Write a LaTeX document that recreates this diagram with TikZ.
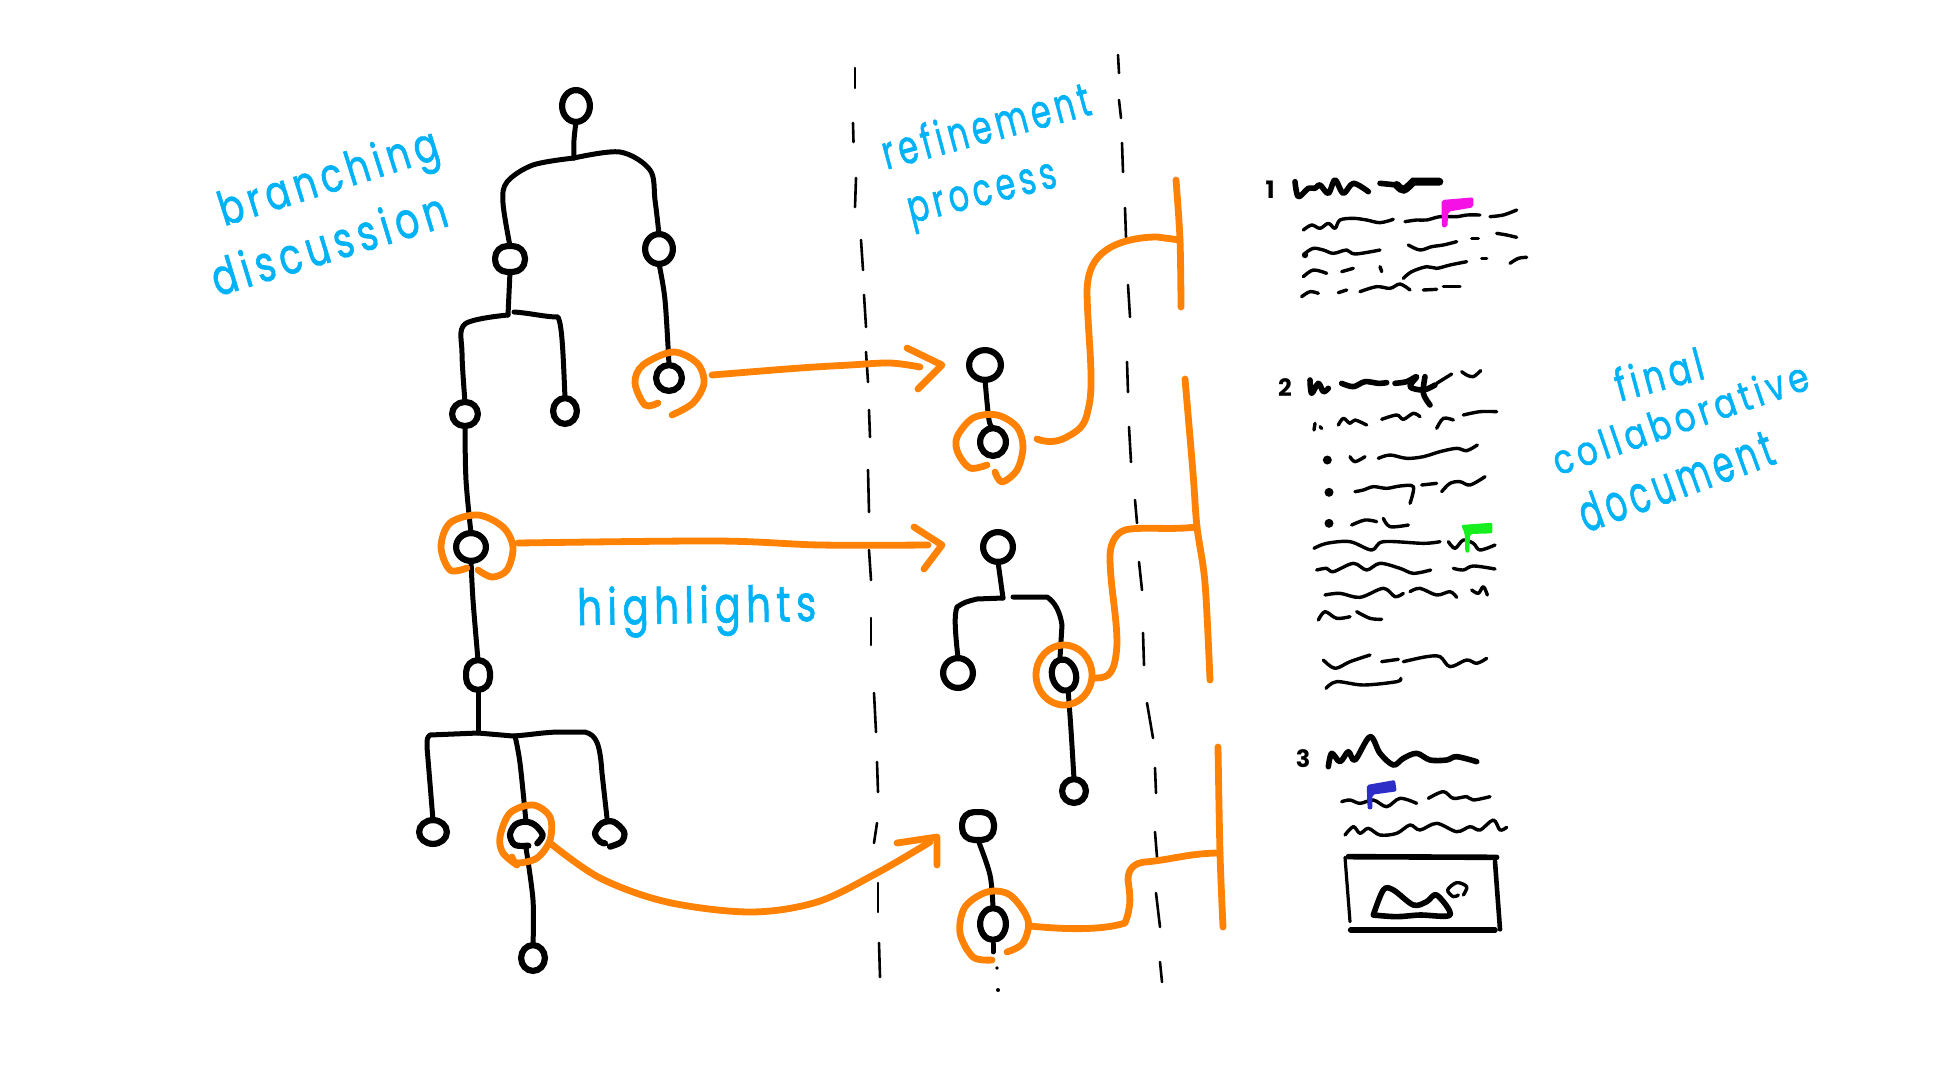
\documentclass[tikz,border=0pt]{standalone}
\usepackage{fontspec}
\usepackage{graphicx}
\usetikzlibrary{shapes.geometric}
\setmainfont{Poppins}
\definecolor{skyb}{HTML}{00B2F6}
\definecolor{orng}{HTML}{FF8204}
\definecolor{magf}{HTML}{F511E6}
\definecolor{grnf}{HTML}{16EE1E}
\definecolor{bluf}{HTML}{2D2DC8}
\tikzset{
  wire/.style={black,line width=5pt,line cap=round,line join=round},
  nodeline/.style={black,line width=6.2pt,line cap=round,line join=round},
  hlt/.style={orng,line width=6.8pt,line cap=round,line join=round},
  tick/.style={black,line width=2.6pt,line cap=round},
  ink/.style={black,line width=3.4pt,line cap=round,line join=round},
  inkh/.style={black,line width=5.6pt,line cap=round,line join=round},
  tn/.style={ellipse,draw=black,line width=6.2pt,inner sep=0pt,outer sep=0pt},
  tq/.style={rectangle,rounded corners=12pt,draw=black,line width=6.2pt,inner sep=0pt,outer sep=0pt},
  tg/.style={ellipse,inner sep=0pt,outer sep=0pt},
  lbl/.style={text=skyb,inner sep=0pt,anchor=base},
  z/.style 2 args={shift={(#1,#2)},x=0.33333pt,y=-0.33333pt},
  numb/.style={inner sep=0pt,font=\fontsize{24pt}{24pt}\selectfont\bfseries},
}
% name, x, y, outer half-width, outer half-height, rotation
\newcommand{\tnode}[6][tn]{\node[#1,rotate=#6,minimum width={(2*#4-6.2)*1pt},minimum height={(2*#5-6.2)*1pt}] (#2) at (#3) {};}
\newcommand{\sk}[2]{\draw[#1] plot[smooth,tension=.55] coordinates {#2};}
\newcommand{\lab}[6]{\node[lbl,rotate=#3] (#1) at (#2) {\resizebox{#4pt}{#5pt}{\addfontfeature{LetterSpace=14,FakeBold=1.4}#6}};}
\begin{document}
\begin{tikzpicture}[x=1pt,y=-1pt]
\useasboundingbox (0,0) rectangle (1938,1090);
\fill[white] (0,0) rectangle (1938,1090);

% dashed dividers
\foreach \a/\b/\c/\d in {855/68/855/88,853/123/853.5/142,856/178/855/207,861/240/863/270,864/295/866/327,866/352/868/382,869/410/870/437,868/470/869/512,869/550/871/580,871/618/871/645,874/693/876/732,877/762/878/792,877/823/874/843,878/883/878/912,879/943/880/977,
 1118/55/1119/73,1119/100/1121/118,1122/143/1123/172,1125/208/1126/237,1128/285/1130/317,1127/362/1128/392,1129/427/1131/462,1135/500/1137/523,1139/562/1142/590,1143/633/1144/665,1147/703/1153/738,1155/768/1156/793,1155/832/1157/857,1156/893/1160/927,1160/962/1162/982}
 {\draw[tick] (\a,\b) -- (\c,\d);}

% left tree nodes
\tnode{root}{576,106}{17}{19}{0}
\tnode[tq]{na}{510,259}{18}{16}{0}
\tnode{nb}{659,249}{17}{18}{0}
\tnode{nc}{669,378}{16}{16}{0}
\tnode[tq]{nd}{465,414}{16}{15}{0}
\tnode{ne}{565,411}{15}{16}{0}
\tnode{nf}{471,547}{18}{17}{0}
\tnode[tq]{ng}{478,675}{15}{18}{0}
\tnode{nh}{433,832}{17}{15}{0}
\node[tg,minimum width=32pt,minimum height=26pt] (ni) at (526,835) {};
\node[tg,minimum width=30pt,minimum height=28pt] (nj) at (610,834) {};
\tnode{nk}{533,958}{15}{16}{0}
\begin{scope}[z={400}{480}]
\sk{nodeline}{(412,1090)(428,1065)(405,1035)(375,1025)(345,1035)(330,1065)(345,1095)(385,1097)}
\sk{nodeline}{(630,1100)(665,1085)(672,1055)(640,1025)(605,1030)(585,1060)(600,1085)(615,1090)}
\end{scope}

% junctions
\coordinate (ja) at (574,158);
\coordinate (jb) at (508,315);
\coordinate (jc) at (478,733);

% left tree connectors
\sk{wire}{(root.south)(574,140)(ja)}
\sk{wire}{(ja)(533,165)(507,182)(503,203)(na.north)}
\sk{wire}{(ja)(620,152)(650,170)(655,200)(nb.north)}
\sk{wire}{(nb.south)(665,300)(nc.north)}
\sk{wire}{(na.south)(jb)}
\sk{wire}{(jb)(465,324)(462,353)(nd.north)}
\draw[wire] (514,312) .. controls (530,313) and (545,317) .. (558,317) .. controls (562,325) and (563,350) .. (ne.north);
\sk{wire}{(nd.south)(466,480)(nf.north)}
\sk{wire}{(nf.south)(473,600)(ng.north)}
\sk{wire}{(ng.south)(jc)}
\draw[wire] (nh.north) -- (427,747) .. controls (427,738) .. (430,735) -- (jc) -- (513,736) .. controls (530,735) and (545,732) .. (560,732) -- (585,732) .. controls (597,735) and (600,745) .. (602,773) -- (607,818);
\sk{wire}{(515,736)(520,763)(ni.north)}
\sk{wire}{(ni.south)(533,900)(nk.north)}

% middle trees
\tnode{ma}{985,365}{19}{18}{0}
\tnode{mb}{993,442}{16}{17}{0}
\sk{wire}{(ma.south)(989,420)(mb.north)}
\tnode{pa}{998,547}{18}{18}{0}
\tnode{pb}{958,673}{18}{18}{0}
\tnode{pc}{1064,675}{15}{19}{15}
\tnode{pd}{1074,791}{15}{15}{0}
\coordinate (pj) at (1003,598);
\sk{wire}{(pa.south)(pj)}
\draw[wire] (pj) -- (977,599) .. controls (965,602) .. (957,607) .. controls (954,615) and (955,630) .. (pb.north);
\draw[wire] (1013,597) -- (1047,597) .. controls (1055,602) and (1060,612) .. (1062,625) -- (pc.north);
\sk{wire}{(pc.south)(1071,730)(pd.north)}
\tnode[tq]{qa}{978,826}{19}{17}{0}
\tnode{qb}{993,924}{16}{19}{0}
\sk{wire}{(qa.south)(990,875)(qb.north)}
\draw[wire] (qb.south) ++(0,4) -- ++(0,8);
\fill (997,968) circle (1.8pt);
\fill (998,990) circle (2pt);

% highlight rings
\coordinate (ra) at (712,375);
\coordinate (rb) at (518,543);
\coordinate (rc) at (550,843);
\sk{hlt}{(658,403)(645,405)(635,383)(643,365)(673,352)(697,363)(704,383)(693,403)(672,415)}
\sk{hlt}{(467,568)(450,570)(441,547)(450,523)(478,515)(503,527)(513,547)(507,570)(492,577)(478,570)}
\sk{hlt}{(517,865)(503,853)(500,837)(510,813)(533,805)(550,817)(550,840)(537,858)(517,863)(512,857)}
\sk{hlt}{(987,465)(970,468)(958,453)(957,437)(973,418)(997,415)(1017,427)(1023,447)(1017,470)(1002,482)(995,472)}
\draw[hlt] (pc) ellipse [x radius=28pt,y radius=30pt];
\sk{hlt}{(992,960)(973,957)(960,933)(965,907)(987,892)(1010,895)(1028,920)(1023,943)(1007,952)}

% arrows between the columns
\coordinate (ta) at (942,365);
\coordinate (tb) at (942,545);
\coordinate (tc) at (937,837);
\sk{hlt}{(ra)(800,368)(850,365)(890,363)(920,367)}
\draw[hlt] (907,348) -- (ta) -- (918,389);
\sk{hlt}{(rb)(717,541)(820,545)(928,545)}
\draw[hlt] (914,527) -- (tb) -- (924,569);
\sk{hlt}{(rc)(600,878)(667,902)(750,912)(817,902)(877,873)(930,842)}
\draw[hlt] (897,843) -- (tc) -- (937,865);

% bars of the document
\coordinate (ba) at (1180,240);
\coordinate (bb) at (1197,527);
\coordinate (bc) at (1220,853);
\sk{hlt}{(1176,180)(ba)(1181,307)}
\sk{hlt}{(1185,379)(1193,473)(bb)(1205,583)(1210,680)}
\sk{hlt}{(1218,747)(bc)(1223,927)}
\draw[hlt] (1037,439) .. controls (1045,442) and (1055,443) .. (1065,438) .. controls (1078,431) and (1085,427) .. (1088,410) .. controls (1095,385) and (1088,340) .. (1087,293) .. controls (1087,270) and (1095,258) .. (1105,251) .. controls (1115,243) and (1135,237) .. (1157,237) -- (ba);
\draw[hlt] (1093,678) .. controls (1105,678) and (1113,678) .. (1116,655) .. controls (1120,630) and (1110,590) .. (1110,557) .. controls (1110,540) and (1118,530) .. (1130,529) .. controls (1150,527) and (1170,530) .. (bb);
\draw[hlt] (1030,926) .. controls (1060,929) and (1100,931) .. (1125,923) .. controls (1132,905) and (1130,895) .. (1128,880) .. controls (1128,868) and (1135,863) .. (1145,862) .. controls (1170,860) and (1190,853) .. (bc);

% document 1
\node[numb] (numa) at (1270,190) {1};
\begin{scope}[z={1240}{150}]
\sk{inkh}{(165,95)(175,140)(205,115)(225,115)(240,105)(265,130)(285,90)(310,130)(340,100)(385,125)}
\sk{inkh}{(420,100)(470,105)}
\draw[black,line width=8pt,line cap=round] (470,105) .. controls (490,125) .. (520,95) -- (598,95);
\sk{ink}{(190,240)(215,225)(240,235)(265,220)(285,235)(300,210)(340,205)(380,210)(420,218)(460,208)}
\sk{ink}{(495,215)(530,210)(560,210)(600,200)(650,200)(680,195)(720,195)}
\sk{ink}{(750,200)(790,195)(830,180)}
\fill (195,315) circle (3.2pt);
\sk{ink}{(195,310)(220,295)(250,300)(280,310)(320,300)(345,312)(420,300)}
\sk{ink}{(505,285)(540,300)(575,290)(610,285)(650,275)}
\sk{ink}{(695,265)(715,265)}
\sk{ink}{(770,250)(800,255)(830,262)}
\sk{ink}{(190,380)(220,360)(260,370)}
\sk{ink}{(305,365)(340,355)}
\sk{ink}{(420,350)(425,365)}
\sk{ink}{(490,385)(515,365)(560,350)(590,355)(630,345)(680,335)}
\sk{ink}{(725,325)(740,325)}
\sk{ink}{(810,340)(835,325)(860,322)}
\sk{ink}{(185,440)(210,425)(235,430)}
\sk{ink}{(295,428)(320,420)}
\sk{ink}{(360,425)(410,410)(450,415)(480,402)(510,420)}
\sk{ink}{(550,420)(590,418)}
\sk{ink}{(610,410)(660,410)}
\fill[magf,rounded corners=2pt] (605,150) -- (700,142) -- (700,172) -- (625,185) -- (622,232) -- (606,232) -- (605,188) -- cycle;
\end{scope}

% document 2
\node[numb] (numb) at (1285,388) {2};
\begin{scope}[z={1240}{360}]
\sk{inkh}{(210,60)(215,100)(235,70)(250,95)(265,85)}
\sk{inkh}{(305,70)(340,80)(375,65)(415,70)(440,68)}
\sk{inkh}{(465,70)(500,65)(530,50)(510,80)(550,90)(585,75)}
\sk{inkh}{(555,50)(550,100)(570,135)}
\sk{ink}{(590,70)(635,42)}
\sk{ink}{(665,35)(680,45)(700,50)(722,32)}
\sk{ink}{(222,210)(225,190)}
\sk{ink}{(245,205)(240,200)}
\sk{ink}{(295,195)(310,175)(330,190)(345,180)(380,195)}
\sk{ink}{(425,178)(470,165)(490,178)(520,160)(540,170)}
\sk{ink}{(590,205)(610,175)(640,180)}
\sk{ink}{(670,165)(720,155)(770,155)}
\fill (262,300) circle (4.5pt);
\fill (267,397) circle (4.5pt);
\fill (267,490) circle (4.5pt);
\sk{ink}{(330,290)(345,305)(375,290)}
\sk{ink}{(415,295)(450,285)(500,295)(550,290)(600,275)(650,265)(680,272)(712,255)}
\sk{ink}{(345,395)(370,390)(400,380)(440,385)(480,378)(520,380)(510,430)}
\sk{ink}{(545,375)(590,370)}
\sk{ink}{(605,395)(630,370)(660,365)(690,375)(735,350)}
\sk{ink}{(335,495)(375,480)(410,485)}
\sk{ink}{(430,475)(450,500)(505,495)}
\sk{ink}{(222,565)(260,550)(330,545)(395,570)(430,545)(550,550)(600,545)}
\sk{ink}{(625,545)(645,565)(670,540)(700,550)(720,570)(765,555)}
\sk{ink}{(230,630)(260,625)(280,635)(340,610)(380,630)(420,610)(480,625)(520,640)(572,630)}
\sk{ink}{(640,625)(670,630)(700,618)(765,627)}
\sk{ink}{(255,705)(300,700)(360,712)(430,685)(465,710)(490,700)}
\sk{ink}{(510,695)(540,685)(590,705)(630,695)(650,712)}
\sk{ink}{(695,690)(715,700)(730,680)(742,705)}
\sk{ink}{(235,780)(255,755)(290,775)(330,770)}
\sk{ink}{(350,755)(390,775)(425,778)}
\sk{ink}{(250,900)(285,925)(330,905)(390,885)}
\sk{ink}{(425,905)(475,898)}
\sk{ink}{(490,905)(560,890)(600,890)(630,920)(680,900)(710,910)(740,895)}
\sk{ink}{(258,985)(290,965)(370,975)(470,965)(482,955)}
\fill[grnf,rounded corners=2pt] (663,495) -- (757,488) -- (757,520) -- (690,522) -- (688,578) -- (676,578) -- (674,520) -- cycle;
\end{scope}

% document 3
\node[numb] (numc) at (1303,759) {3};
\begin{scope}[z={1280}{720}]
\sk{inkh}{(145,140)(155,100)(180,125)(205,95)(225,120)(270,50)(300,100)(340,135)(370,115)(410,100)(450,120)(500,120)(530,110)(590,125)}
\sk{ink}{(185,245)(210,240)(240,250)(280,240)(320,260)(360,235)(410,250)}
\sk{ink}{(445,235)(490,215)(520,235)(560,230)(580,240)(630,230)}
\sk{ink}{(195,345)(220,320)(240,340)(265,325)(300,345)(350,340)(390,315)(420,330)(470,310)(530,335)(570,320)(600,330)(640,300)(660,330)(680,322)}
\fill[bluf,rounded corners=2pt] (260,195) -- (345,180) -- (350,214) -- (277,224) -- (277,268) -- (263,268) -- cycle;
\draw[black,line width=5.6pt,line cap=round] (205,410) -- (650,412);
\draw[black,line width=3.2pt,line cap=round] (195,412) -- (210,605);
\draw[black,line width=4.6pt,line cap=round] (645,425) -- (660,628);
\draw[black,line width=5.6pt,line cap=round] (212,630) -- (645,630);
\sk{inkh}{(280,585)(310,510)(340,510)(400,555)(440,545)(470,525)(510,585)(420,585)(350,590)(280,585)}
\sk{ink}{(550,525)(560,500)(530,488)(503,510)(520,530)(535,525)}
\end{scope}

% labels
\lab{lba}{333,192}{17.5}{228}{36}{branching}
\lab{lbb}{334,261}{17}{244}{38}{discussion}
\lab{lbc}{697,623}{1}{239}{38}{highlights}
\lab{lbd}{990,142}{15}{214}{36}{refinement}
\lab{lbe}{985,205}{14}{152}{25}{process}
\lab{lbf}{1663,390}{15}{90}{34}{final}
\lab{lbg}{1685,432}{19}{268}{31}{collaborative}
\lab{lbh}{1682,498}{20}{204}{38}{document}
\end{tikzpicture}
\end{document}
